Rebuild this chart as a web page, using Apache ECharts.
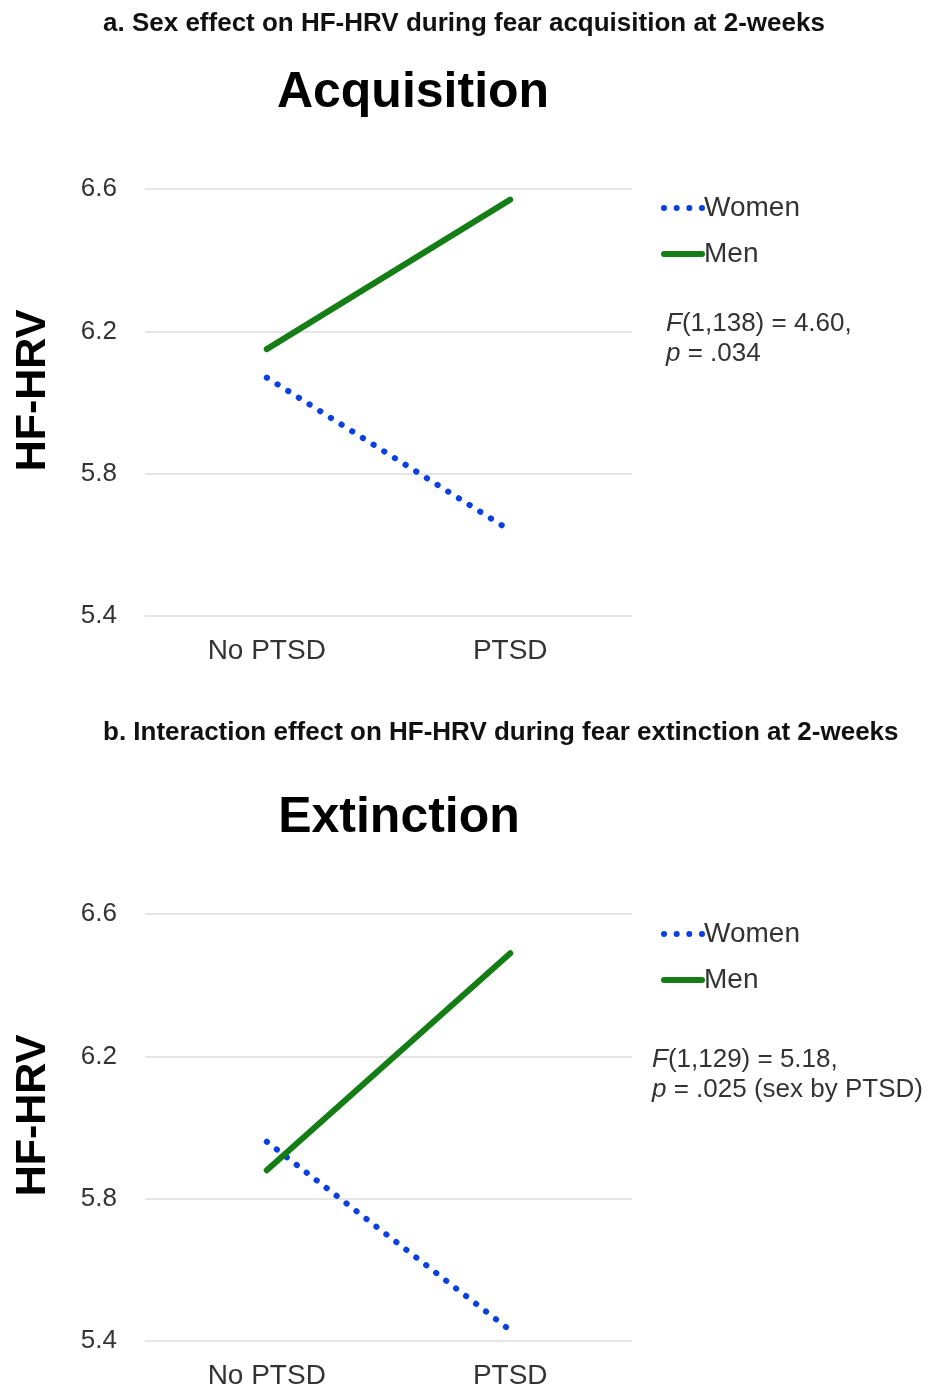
<!DOCTYPE html>
<html>
<head>
<meta charset="utf-8">
<script src="https://cdn.jsdelivr.net/npm/echarts@6/dist/echarts.min.js"></script>
<style>
  html, body { margin: 0; padding: 0; background: #ffffff; }
  #chart { width: 928px; height: 1390px; }
</style>
</head>
<body>
<div id="chart"></div>
<script>
// ---- data ----
const categories = ['No PTSD', 'PTSD'];
const yTicks = [5.4, 5.8, 6.2, 6.6];
const acqWomen = [6.07, 5.64];
const acqMen = [6.15, 6.57];
const extWomen = [5.96, 5.43];
const extMen = [5.88, 6.49];
const seriesNames = ['Women', 'Men'];
const titleA = 'a. Sex effect on HF-HRV during fear acquisition at 2-weeks';
const titleB = 'b. Interaction effect on HF-HRV during fear extinction at 2-weeks';
const panelA = 'Acquisition';
const panelB = 'Extinction';
const yName = 'HF-HRV';

// ---- styles ----
const FONT = 'Liberation Sans, Arial, sans-serif';
const WOMEN_COLOR = '#0a3fe0';
const MEN_COLOR = '#157d15';
const womenLine = { color: WOMEN_COLOR, width: 6, type: [0.3, 12.3], cap: 'round' };
const menLine = { color: MEN_COLOR, width: 6, type: 'solid', cap: 'round' };
const DOTS_ICON = 'path://M0,3A3,3 0 1,1 6,3A3,3 0 1,1 0,3Z' +
  'M12.6,3A3,3 0 1,1 18.6,3A3,3 0 1,1 12.6,3Z' +
  'M25.2,3A3,3 0 1,1 31.2,3A3,3 0 1,1 25.2,3Z' +
  'M37.8,3A3,3 0 1,1 43.8,3A3,3 0 1,1 37.8,3Z';
const BAR_ICON = 'path://M3,0H41A3,3 0 0,1 41,6H3A3,3 0 0,1 3,0Z';

const chart = echarts.init(document.getElementById('chart'), null, { renderer: 'canvas' });

function xAx(gi) {
  return {
    type: 'category', gridIndex: gi, data: categories, boundaryGap: true,
    axisLine: { show: false }, axisTick: { show: false },
    axisLabel: { fontFamily: FONT, fontSize: 28, color: '#333', margin: 21 }
  };
}
function yAx(gi) {
  return {
    type: 'value', gridIndex: gi, min: yTicks[0], max: yTicks[yTicks.length - 1], interval: 0.4,
    name: yName, nameLocation: 'middle', nameGap: 90, nameRotate: 90,
    nameTextStyle: { fontFamily: FONT, fontSize: 43, fontWeight: 'bold', color: '#000', padding: [0, 0, 0, 24] },
    axisLine: { show: false }, axisTick: { show: false },
    axisLabel: { fontFamily: FONT, fontSize: 26, color: '#333', margin: 28,
      formatter: v => v.toFixed(1) },
    splitLine: { show: true, lineStyle: { color: '#dcdcdc', width: 1.5 } }
  };
}
function legend(top) {
  return {
    orient: 'vertical', left: 656, top: top, itemWidth: 44, itemHeight: 14, itemGap: 18,
    symbolKeepAspect: true,
    textStyle: { fontFamily: FONT, fontSize: 28, color: '#333', padding: [0, 0, 0, -6] },
    data: [{ name: seriesNames[0], icon: DOTS_ICON }, { name: seriesNames[1], icon: BAR_ICON }]
  };
}
function annot(x, y, lines) {
  return {
    type: 'text', left: x, top: y,
    style: {
      text: lines, fontFamily: FONT, fontSize: 26, fill: '#333', lineHeight: 30,
      rich: { i: { fontFamily: FONT, fontSize: 26, fontStyle: 'italic', fill: '#333' } }
    }
  };
}

const option = {
  backgroundColor: '#ffffff',
  animation: false,
  grid: [
    { left: 145, width: 487, top: 189, height: 427 },
    { left: 145, width: 487, top: 914, height: 427 }
  ],
  xAxis: [xAx(0), xAx(1)],
  yAxis: [yAx(0), yAx(1)],
  legend: [legend(189), legend(915)],
  series: [
    { name: 'Women', type: 'line', xAxisIndex: 0, yAxisIndex: 0, data: acqWomen, symbol: 'none', lineStyle: womenLine, itemStyle: { color: WOMEN_COLOR } },
    { name: 'Men', type: 'line', xAxisIndex: 0, yAxisIndex: 0, data: acqMen, symbol: 'none', lineStyle: menLine, itemStyle: { color: MEN_COLOR } },
    { name: 'Women', type: 'line', xAxisIndex: 1, yAxisIndex: 1, data: extWomen, symbol: 'none', lineStyle: womenLine, itemStyle: { color: WOMEN_COLOR } },
    { name: 'Men', type: 'line', xAxisIndex: 1, yAxisIndex: 1, data: extMen, symbol: 'none', lineStyle: menLine, itemStyle: { color: MEN_COLOR } }
  ],
  graphic: [
    { type: 'text', x: 103, y: 24, style: { text: titleA, fontFamily: FONT, fontSize: 26, fontWeight: 'bold', fill: '#111', align: 'left', verticalAlign: 'middle' } },
    { type: 'text', x: 103, y: 733, style: { text: titleB, fontFamily: FONT, fontSize: 26, fontWeight: 'bold', fill: '#111', align: 'left', verticalAlign: 'middle' } },
    { type: 'text', x: 413, y: 93, style: { text: panelA, fontFamily: FONT, fontSize: 50, fontWeight: 'bold', fill: '#000', align: 'center', verticalAlign: 'middle' } },
    { type: 'text', x: 399, y: 818, style: { text: panelB, fontFamily: FONT, fontSize: 50, fontWeight: 'bold', fill: '#000', align: 'center', verticalAlign: 'middle' } },
    annot(666, 309, '{i|F}(1,138) = 4.60,\n{i|p} = .034'),
    annot(652, 1045, '{i|F}(1,129) = 5.18,\n{i|p} = .025 (sex by PTSD)')
  ]
};
chart.setOption(option);
</script>
</body>
</html>
